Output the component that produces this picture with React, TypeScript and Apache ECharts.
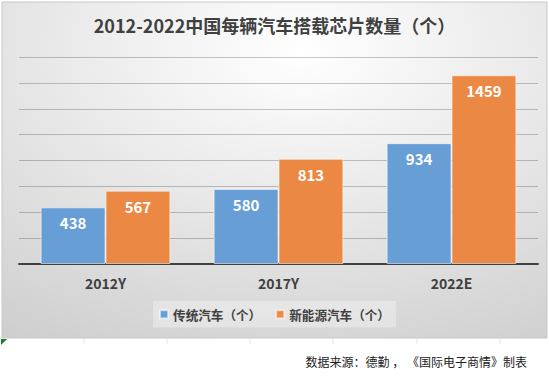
import React, { useEffect, useRef } from "react";
import * as echarts from "echarts";

const categories = ["2012Y", "2017Y", "2022E"];
const traditional = [438, 580, 934];
const newEnergy = [567, 813, 1459];
const seriesNames = ["传统汽车（个）", "新能源汽车（个）"];
const titleText = "2012-2022中国每辆汽车搭载芯片数量（个）";
const sourceText = "数据来源：德勤 ， 《国际电子商情》制表";

const FONT = '"Noto Sans CJK SC", "Noto Sans", sans-serif';

export default function App() {
  const ref = useRef<HTMLDivElement>(null);
  useEffect(() => {
    if (!ref.current) return;
    const chart = echarts.init(ref.current, undefined, { renderer: "svg" });
    const cellTicks = [84, 167, 250, 333, 417, 500];
    chart.setOption({
      animation: false,
      textStyle: { fontFamily: FONT },
      title: {
        text: titleText,
        left: "center",
        top: 16,
        padding: 0,
        textStyle: { fontSize: 18, fontWeight: "bold", color: "#404040", fontFamily: FONT },
      },
      legend: {
        left: "center",
        top: 301,
        padding: [7, 6, 7, 6],
        itemGap: 14,
        itemWidth: 8,
        itemHeight: 8,
        icon: "rect",
        backgroundColor: "rgba(255,255,255,0.32)",
        textStyle: { fontSize: 12.6, fontWeight: "bold", color: "#404040", fontFamily: FONT },
        data: seriesNames,
      },
      grid: { left: 19, right: 11, top: 57, bottom: 115 },
      xAxis: {
        type: "category",
        data: categories,
        axisTick: { show: false },
        axisLine: { lineStyle: { color: "#404040", width: 2 } },
        axisLabel: { margin: 12, fontSize: 14, fontWeight: "bold", color: "#404040", fontFamily: FONT },
      },
      yAxis: {
        type: "value",
        min: 0,
        max: 1600,
        interval: 200,
        axisLabel: { show: false },
        axisLine: { show: false },
        axisTick: { show: false },
        splitLine: { lineStyle: { color: "rgba(0,0,0,0.22)", width: 1 } },
      },
      graphic: [
        {
          type: "rect",
          z: -100,
          silent: true,
          shape: { x: 2, y: 2, width: 545, height: 336 },
          style: {
            fill: new echarts.graphic.RadialGradient(0.55, 0.15, 1.25, [
              { offset: 0, color: "#ffffff" },
              { offset: 1, color: "#c2c2c2" },
            ]),
            stroke: "#c8c8c8",
            lineWidth: 1,
          },
        },
        ...cellTicks.map((x) => ({
          type: "line",
          z: -100,
          silent: true,
          shape: { x1: x, y1: 338, x2: x, y2: 344 },
          style: { stroke: "#e4e4e4", lineWidth: 1 },
        })),
        {
          type: "polygon",
          z: 100,
          silent: true,
          shape: { points: [[1, 339], [7, 339], [1, 345]] },
          style: { fill: "#1e7b34" },
        },
        {
          type: "text",
          silent: true,
          x: 527,
          y: 361,
          style: {
            text: sourceText,
            fontSize: 12,
            fontFamily: FONT,
            fill: "#222222",
            align: "right",
            verticalAlign: "middle",
          },
        },
      ],
      series: [
        {
          name: seriesNames[0],
          type: "bar",
          data: traditional,
          barGap: "0%",
          barCategoryGap: "25%",
          itemStyle: { color: "#679ed6", borderColor: "rgba(255,255,255,0.55)", borderWidth: 1 },
          label: {
            show: true,
            position: "insideTop",
            distance: 8,
            color: "#ffffff",
            fontSize: 15,
            fontWeight: "bold",
            fontFamily: FONT,
          },
        },
        {
          name: seriesNames[1],
          type: "bar",
          data: newEnergy,
          barGap: "0%",
          barCategoryGap: "25%",
          itemStyle: { color: "#eb8944", borderColor: "rgba(255,255,255,0.55)", borderWidth: 1 },
          label: {
            show: true,
            position: "insideTop",
            distance: 8,
            color: "#ffffff",
            fontSize: 15,
            fontWeight: "bold",
            fontFamily: FONT,
          },
        },
      ],
    });
    return () => chart.dispose();
  }, []);
  return (
    <div
      ref={ref}
      style={{ position: "absolute", left: 0, top: 0, width: 549, height: 379, background: "#ffffff" }}
    />
  );
}
